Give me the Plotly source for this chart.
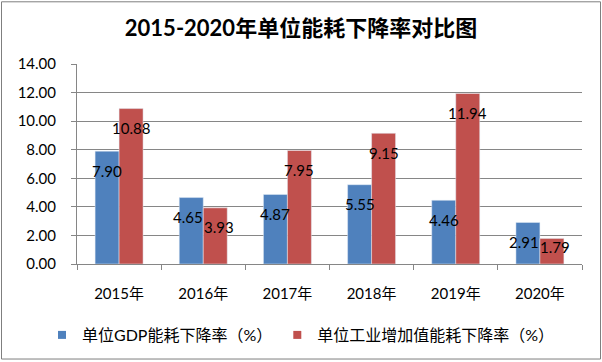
import plotly.graph_objects as go

categories = ["2015年", "2016年", "2017年", "2018年", "2019年", "2020年"]
gdp_rate = [7.90, 4.65, 4.87, 5.55, 4.46, 2.91]
ind_rate = [10.88, 3.93, 7.95, 9.15, 11.94, 1.79]
series_names = ["单位GDP能耗下降率（%）", "单位工业增加值能耗下降率（%）"]
y_ticks = [0, 2, 4, 6, 8, 10, 12, 14]

BLUE = "#4F81BD"
RED = "#C0504D"
GRID = "#868686"
FONT = "Lato, 'Noto Sans CJK SC', sans-serif"

L, R, T, B = 77, 582, 64, 265
W, H = 602, 362
pw, ph = R - L, B - T
Y_MAX = 14
px_per_unit = ph / Y_MAX

fig = go.Figure()
fig.add_trace(go.Bar(x=categories, y=gdp_rate, marker_color=BLUE, name=series_names[0],
                     showlegend=False, hoverinfo="skip"))
fig.add_trace(go.Bar(x=categories, y=ind_rate, marker_color=RED, name=series_names[1],
                     showlegend=False, hoverinfo="skip"))
# legend entries with small square markers
fig.add_trace(go.Scatter(x=[None], y=[None], mode="markers", name=series_names[0],
                         marker=dict(symbol="square", size=8, color=BLUE)))
fig.add_trace(go.Scatter(x=[None], y=[None], mode="markers", name=series_names[1],
                         marker=dict(symbol="square", size=8, color=RED)))


def label_shift(v):
    # inside-end labels, kept inside the plot near the axis for short bars
    return -min(19.5, v * px_per_unit - 17)


annotations = []
for cat, a, b in zip(categories, gdp_rate, ind_rate):
    ya = a * px_per_unit + label_shift(a)
    yb = b * px_per_unit + label_shift(b)
    spread = 3.5 if abs(ya - yb) < 12 else 0  # nudge apart labels that would collide
    for v, dx in ((a, -12 - spread), (b, 12 + spread)):
        annotations.append(dict(x=cat, y=v, xref="x", yref="y", text=f"{v:.2f}", showarrow=False,
                                xshift=dx, yshift=label_shift(v), yanchor="middle", xanchor="center",
                                font=dict(family=FONT, size=15, color="#000000")))

fig.update_layout(
    width=W, height=H,
    margin=dict(l=L, r=W - R, t=T, b=H - B, pad=0),
    paper_bgcolor="white", plot_bgcolor="white",
    barmode="group", bargap=0.43, bargroupgap=0,
    font=dict(family=FONT, size=15, color="#000000"),
    title=dict(text="<b>2015-2020年单位能耗下降率对比图</b>", x=0.5, xanchor="center",
               y=1 - 28 / H, yanchor="middle",
               font=dict(family=FONT, size=22, color="#000000")),
    xaxis=dict(showgrid=False, showline=True, linecolor=GRID, linewidth=1,
               ticks="outside", tickson="boundaries", ticklen=5, tickcolor=GRID,
               ticklabelstandoff=16, tickfont=dict(size=15)),
    yaxis=dict(range=[0, Y_MAX], tickvals=y_ticks, ticktext=[f"{t:.2f}" for t in y_ticks],
               showgrid=True, gridcolor=GRID, gridwidth=1, zeroline=False,
               showline=True, linecolor=GRID, linewidth=1,
               ticks="outside", ticklen=5, tickcolor=GRID,
               ticklabelstandoff=12, tickfont=dict(size=15)),
    legend=dict(orientation="h", x=(42 - L) / pw, xanchor="left",
                y=(B - 335) / ph, yanchor="middle",
                font=dict(family=FONT, size=16), itemsizing="trace",
                bgcolor="rgba(0,0,0,0)"),
    annotations=annotations,
    shapes=[dict(type="rect", xref="paper", yref="paper",
                 x0=(1.5 - L) / pw, x1=(600.5 - L) / pw,
                 y0=(B - 360.5) / ph, y1=(B - 1.5) / ph,
                 line=dict(color="#7F7F7F", width=1), fillcolor="rgba(0,0,0,0)", layer="below")],
)

fig.write_html("out.html", config={"displayModeBar": False},
               post_script="document.body.style.margin='0';document.body.style.overflow='hidden';")
